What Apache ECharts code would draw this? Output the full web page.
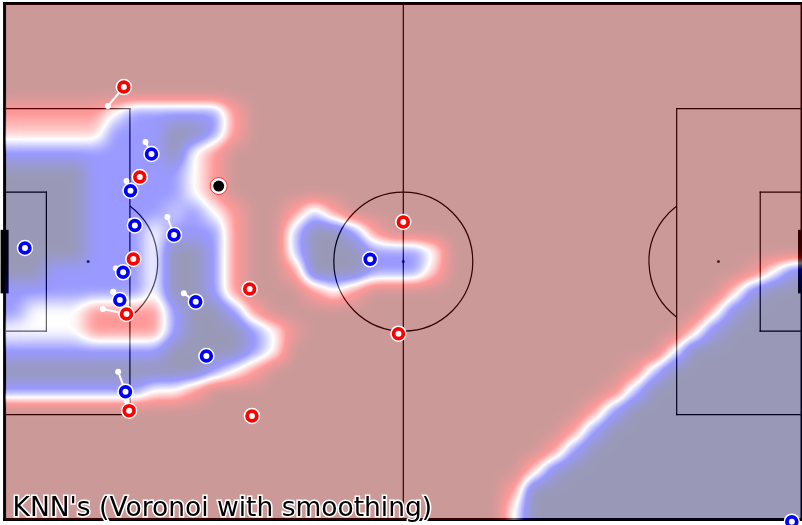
<!DOCTYPE html>
<html>
<head>
<meta charset="utf-8">
<script src="https://cdn.jsdelivr.net/npm/echarts@6/dist/echarts.min.js"></script>
<style>
html, body { margin: 0; padding: 0; background: #fff; }
.layer { position: absolute; left: 0; top: 0; width: 802px; height: 525px; }
#heatWrap { position: absolute; left: 4.6px; top: 3.6px; width: 799px; height: 516px; overflow: hidden; opacity: 0.4; }
#heat { width: 799px; height: 516px; filter: url(#smooth); }
</style>
</head>
<body>
<svg width="0" height="0" style="position:absolute">
  <filter id="smooth" color-interpolation-filters="sRGB" x="0" y="0" width="100%" height="100%">
    <feGaussianBlur stdDeviation="8"/>
    <feComponentTransfer>
      <feFuncR type="table" tableValues="0 0 1 1 0.5"/>
      <feFuncG type="table" tableValues="0 0 1 0 0"/>
      <feFuncB type="table" tableValues="0.3 1 1 0 0"/>
      <feFuncA type="table" tableValues="1 1"/>
    </feComponentTransfer>
  </filter>
</svg>
<div id="pitch" class="layer"></div>
<div id="heatWrap"><div id="heat"></div></div>
<div id="players" class="layer"></div>
<script>
// share of blue team per cell (0 = red ... 8 = blue), 40 x 26 cells, top row first
const blueShare = [
  '0000000000' + '0000000000' + '0000000000' + '0000000000',
  '0000000000' + '0000000000' + '0000000000' + '0000000000',
  '0000000000' + '0000000000' + '0000000000' + '0000000000',
  '0000000000' + '0000000000' + '0000000000' + '0000000000',
  '0000000000' + '0000000000' + '0000000000' + '0000000000',
  '2222246666' + '6200000000' + '0000000000' + '0000000000',
  '3333366688' + '6200000000' + '0000000000' + '0000000000',
  '6666666684' + '2000000000' + '0000000000' + '0000000000',
  '8888666664' + '2000000000' + '0000000000' + '0000000000',
  '8888666664' + '2000000000' + '0000000000' + '0000000000',
  '8888666656' + '4200252000' + '0000000000' + '0000000000',
  '8888666466' + '6200588620' + '0000000000' + '0000000000',
  '8888666488' + '6200588866' + '6400000000' + '0000000000',
  '8866666488' + '6200288866' + '6300000000' + '0000000147',
  '6666666488' + '6200024200' + '0000000000' + '0000003788',
  '6444222268' + '8620000000' + '0000000000' + '0000037888',
  '4444222268' + '8864100000' + '0000000000' + '0000378888',
  '6666666688' + '8864000000' + '0000000000' + '0004888888',
  '8888888888' + '6420000000' + '0000000000' + '0158888888',
  '6666666442' + '0000000000' + '0000000000' + '1588888888',
  '0000000000' + '0000000000' + '0000000002' + '6888888888',
  '0000000000' + '0000000000' + '0000000026' + '8888888888',
  '0000000000' + '0000000000' + '0000000268' + '8888888888',
  '0000000000' + '0000000000' + '0000003788' + '8888888888',
  '0000000000' + '0000000000' + '0000028888' + '8888888888',
  '0000000000' + '0000000000' + '0000048888' + '8888888888'
];

// pitch markings in metres (105 x 68, centre at 0,0)
const outerLines = [[-52.5, -34, 52.5, -34], [52.5, -34, 52.5, 34], [52.5, 34, -52.5, 34], [-52.5, 34, -52.5, -34]];
const pitchLines = [
  [0, -34, 0, 34],
  [-52.5, 20.16, -36, 20.16], [-36, 20.16, -36, -20.16], [-36, -20.16, -52.5, -20.16],
  [52.5, 20.16, 36, 20.16], [36, 20.16, 36, -20.16], [36, -20.16, 52.5, -20.16],
  [-52.5, 9.16, -47, 9.16], [-47, 9.16, -47, -9.16], [-47, -9.16, -52.5, -9.16],
  [52.5, 9.16, 47, 9.16], [47, 9.16, 47, -9.16], [47, -9.16, 52.5, -9.16]
];
const circles = [[0, 0, 9.15]];
const arcs = [[-41.5, 0, 9.15, -53.13, 53.13], [41.5, 0, 9.15, 126.87, 233.13]];
const spots = [[-41.5, 0], [0, 0], [41.5, 0]];
const goals = [[-52.5, 3.66], [52.5, 3.66]];

// players (metres) and where their velocity line ends
const redPlayers = [[-36.80, 23.00], [-34.70, 11.15], [-35.55, 0.34], [-36.45, -6.90], [-36.10, -19.64], [-20.23, -3.61], [-19.93, -20.34], [0.00, 5.22], [-0.64, -9.50]];
const redTails = [[-38.90, 20.50], [-34.70, 11.15], [-35.55, 0.34], [-39.56, -6.25], [-36.41, -18.37], [-20.23, -3.61], [-19.31, -20.50], [0.00, 5.22], [-0.64, -9.50]];
const bluePlayers = [[-49.82, 1.79], [-33.16, 14.18], [-35.92, 9.34], [-35.35, 4.76], [-30.19, 3.50], [-36.89, -1.41], [-37.33, -5.06], [-27.33, -5.28], [-25.93, -12.44], [-36.58, -17.14], [-4.37, 0.30], [51.16, -34.27]];
const blueTails = [[-50.21, 2.19], [-33.95, 15.76], [-36.45, 10.62], [-35.88, 5.35], [-31.06, 5.88], [-37.85, -0.88], [-38.21, -3.97], [-28.91, -4.18], [-25.62, -11.92], [-37.55, -14.51], [-4.37, 0.30], [51.16, -34.27]];
const ball = [[-24.31, 9.96]];

const title = "KNN's (Voronoi with smoothing)";

const grid = { left: 4.6, top: 3.6, width: 798.6, height: 516 };
const xAxis = { type: 'value', min: -52.5, max: 52.5, show: false };
const yAxis = { type: 'value', min: -34, max: 34, show: false };

function lineItem(width) {
    return function (params, api) {
        var a = api.coord([api.value(0), api.value(1)]);
        var b = api.coord([api.value(2), api.value(3)]);
        return {
            type: 'line',
            shape: { x1: a[0], y1: a[1], x2: b[0], y2: b[1] },
            style: { stroke: '#000', lineWidth: width, lineCap: 'square' }
        };
    };
}

// bottom layer: white pitch and black markings
const pitchChart = echarts.init(document.getElementById('pitch'));
pitchChart.setOption({
    animation: false,
    backgroundColor: '#fff',
    grid: grid,
    xAxis: xAxis,
    yAxis: yAxis,
    series: [
        { type: 'custom', data: outerLines, renderItem: lineItem(3), clip: false },
        { type: 'custom', data: pitchLines, renderItem: lineItem(1.2), clip: false },
        {
            type: 'custom', data: circles, clip: false,
            renderItem: function (params, api) {
                var c = api.coord([api.value(0), api.value(1)]);
                var r = api.size([api.value(2), 0])[0];
                return { type: 'circle', shape: { cx: c[0], cy: c[1], r: r }, style: { fill: 'none', stroke: '#000', lineWidth: 1.2 } };
            }
        },
        {
            type: 'custom', data: arcs, clip: false,
            renderItem: function (params, api) {
                var c = api.coord([api.value(0), api.value(1)]);
                var r = api.size([api.value(2), 0])[0];
                return {
                    type: 'arc',
                    shape: { cx: c[0], cy: c[1], r: r, startAngle: -api.value(4) * Math.PI / 180, endAngle: -api.value(3) * Math.PI / 180, clockwise: true },
                    style: { fill: 'none', stroke: '#000', lineWidth: 1.2 }
                };
            }
        },
        {
            type: 'custom', data: goals, clip: false,
            renderItem: function (params, api) {
                var a = api.coord([api.value(0), api.value(1)]);
                var b = api.coord([api.value(0), -api.value(1)]);
                return { type: 'rect', shape: { x: a[0] - 4, y: a[1] - 4, width: 8, height: b[1] - a[1] + 8 }, style: { fill: '#000' } };
            }
        },
        { type: 'scatter', data: spots, symbolSize: 3, itemStyle: { color: '#000' } }
    ]
});

// middle layer: team control cells, smoothed and recoloured by the svg filter
const heatData = [];
blueShare.forEach(function (row, j) {
    for (var i = 0; i < row.length; i++) {
        heatData.push([i, j, +row[i]]);
    }
});
const heatChart = echarts.init(document.getElementById('heat'));
heatChart.setOption({
    animation: false,
    grid: { left: 0, top: 0, right: 0, bottom: 0 },
    xAxis: { type: 'category', data: blueShare[0].split('').map(function (v, i) { return i; }), show: false },
    yAxis: { type: 'category', data: blueShare.map(function (v, j) { return j; }), show: false, inverse: true },
    visualMap: { show: false, min: 0, max: 8, inRange: { color: ['#ffffff', '#000000'] } },
    series: [{
        type: 'heatmap',
        data: heatData,
        progressive: 0,
        itemStyle: { borderWidth: 0 },
        emphasis: { disabled: true }
    }]
});

// top layer: players, velocities, ball, title
function velocities(players, tails) {
    return players.map(function (p, k) { return [p[0], p[1], tails[k][0], tails[k][1]]; });
}
function velocityItem(params, api) {
    var a = api.coord([api.value(0), api.value(1)]);
    var b = api.coord([api.value(2), api.value(3)]);
    return {
        type: 'group',
        children: [
            { type: 'line', shape: { x1: a[0], y1: a[1], x2: b[0], y2: b[1] }, style: { stroke: '#fff', lineWidth: 2 } },
            { type: 'circle', shape: { cx: b[0], cy: b[1], r: 3 }, style: { fill: '#fff' } }
        ]
    };
}
const playerChart = echarts.init(document.getElementById('players'));
playerChart.setOption({
    animation: false,
    grid: grid,
    xAxis: xAxis,
    yAxis: yAxis,
    series: [
        { type: 'scatter', data: redPlayers, symbolSize: 15, itemStyle: { color: '#ff0000', borderColor: '#fff', borderWidth: 1.5, opacity: 1 }, clip: false },
        { type: 'scatter', data: bluePlayers, symbolSize: 15, itemStyle: { color: '#0000ff', borderColor: '#fff', borderWidth: 1.5, opacity: 1 }, clip: false },
        { type: 'scatter', data: redPlayers.concat(bluePlayers), symbolSize: 6, itemStyle: { color: '#fff', opacity: 1 }, clip: false },
        { type: 'custom', data: velocities(redPlayers, redTails).concat(velocities(bluePlayers, blueTails)), renderItem: velocityItem, clip: false },
        { type: 'scatter', data: ball, symbolSize: 17, itemStyle: { color: '#fff', borderColor: '#ff3030', borderWidth: 1, opacity: 1 } },
        { type: 'scatter', data: ball, symbolSize: 11, itemStyle: { color: '#000', opacity: 1 } }
    ],
    graphic: [{
        type: 'text',
        left: 11,
        top: 494,
        style: {
            text: title,
            font: '26.5px "DejaVu Sans"',
            fill: '#000',
            stroke: '#fff',
            lineWidth: 3
        }
    }]
});
</script>
</body>
</html>
